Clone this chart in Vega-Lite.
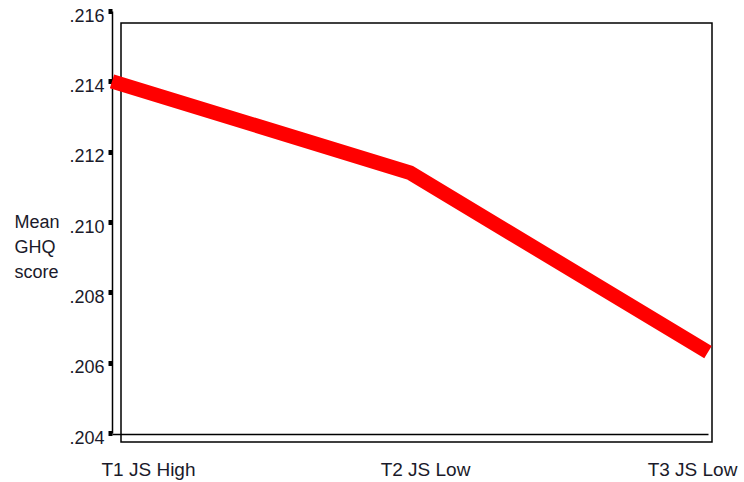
{
  "$schema": "https://vega.github.io/schema/vega-lite/v6.json",
  "width": 591,
  "height": 419,
  "autosize": "none",
  "padding": {"left": 121, "top": 23, "right": 32, "bottom": 40},
  "background": "white",
  "config": {
    "view": {"stroke": "black", "strokeWidth": 1.5},
    "font": "Liberation Sans"
  },
  "data": {
    "values": [
      {"time": "T1 JS High", "ghq": 0.2140},
      {"time": "T2 JS Low", "ghq": 0.2114},
      {"time": "T3 JS Low", "ghq": 0.2063}
    ]
  },
  "mark": {"type": "line", "color": "#ff0000", "strokeWidth": 14.5, "strokeCap": "butt", "strokeJoin": "miter", "clip": false},
  "encoding": {
    "x": {
      "field": "time",
      "type": "ordinal",
      "sort": null,
      "scale": {"type": "point", "range": [-9, 587], "padding": 0},
      "axis": {
        "title": null,
        "labelAngle": 0,
        "ticks": false,
        "domainColor": "black",
        "domainWidth": 1.5,
        "offset": -8,
        "labelFontSize": 19,
        "labelColor": "#1a1a2a",
        "labelPadding": 26,
        "labelBaseline": "top",
        "labelFlush": false,
        "labelOverlap": false,
        "labelOffset": {
          "condition": [
            {"test": "datum.value === 'T1 JS High'", "value": 36},
            {"test": "datum.value === 'T3 JS Low'", "value": -16}
          ],
          "value": 15
        }
      }
    },
    "y": {
      "field": "ghq",
      "type": "quantitative",
      "scale": {"domain": [0.204, 0.216], "range": [410, -12], "zero": false, "nice": false},
      "axis": {
        "title": ["Mean", "GHQ", "score"],
        "titleAngle": 0,
        "titleAlign": "left",
        "titleBaseline": "top",
        "titleX": -98,
        "titleY": 190,
        "titleFontSize": 18,
        "titleFontWeight": "normal",
        "titleLineHeight": 25,
        "titleColor": "#1a1a2a",
        "values": [0.204, 0.206, 0.208, 0.21, 0.212, 0.214, 0.216],
        "labelExpr": "replace(format(datum.value, '.3f'), '0.', '.')",
        "grid": false,
        "domainColor": "black",
        "domainWidth": 1.5,
        "tickColor": "black",
        "tickSize": 4,
        "tickWidth": 5,
        "offset": 9,
        "labelFontSize": 18,
        "labelColor": "#1a1a2a",
        "labelPadding": 4,
        "labelBaseline": "middle",
        "labelOffset": 5,
        "labelFlush": false,
        "labelOverlap": false
      }
    }
  }
}
